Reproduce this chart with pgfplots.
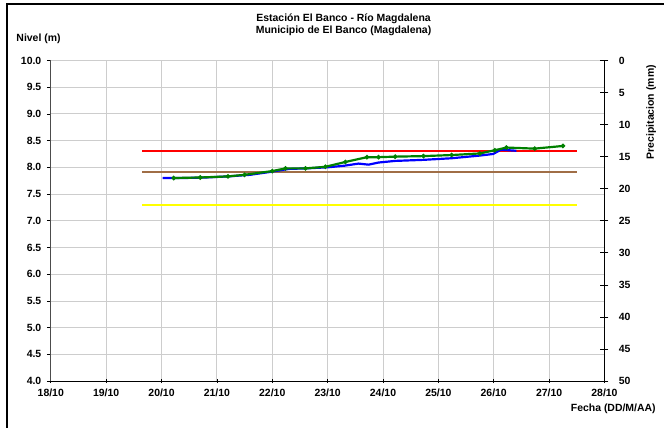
\documentclass[border=0pt]{standalone}
\usepackage{pgfplots}
\pgfplotsset{compat=1.18}
\usepackage{fontspec}
\setmainfont{Liberation Sans}
\definecolor{gridgray}{RGB}{205,205,205}
\definecolor{brownline}{RGB}{160,110,70}
\definecolor{greenline}{RGB}{0,128,0}
\definecolor{myred}{RGB}{255,0,0}
\definecolor{myyellow}{RGB}{255,255,0}
\definecolor{myblue}{RGB}{0,0,255}
\begin{document}
\begin{tikzpicture}[x=1pt,y=1pt]
\begin{axis}[
  name=main,
  at={(0,0)}, anchor=south west,
  width=556pt, height=322pt, scale only axis,
  xmin=0, xmax=10, ymin=4, ymax=10,
  xtick={0,...,10},
  xticklabels={18/10,19/10,20/10,21/10,22/10,23/10,24/10,25/10,26/10,27/10,28/10},
  ytick={4,4.5,...,10},
  yticklabel style={xshift=-2pt,/pgf/number format/.cd,fixed,fixed zerofill,precision=1},
  /pgf/number format/assume math mode=true,
  ticklabel style={font=\fontsize{10.5}{12}\selectfont\bfseries},
  grid=major, major grid style={gridgray, line width=0.8pt},
  axis x line*=bottom, axis y line*=left,
  x axis line style={black, line width=0.8pt, -},
  y axis line style={black!70, line width=1pt, -},
  tick style={black, line width=0.7pt},
  major tick length=4pt,
  xtick align=center,
  ytick align=outside,
  xticklabel style={yshift=-2pt},
  clip=false,
]
\addplot[draw=myred, line width=2pt] coordinates {(1.65,8.3) (5.5,8.3) (9.5,8.3)};
\addplot[draw=brownline, line width=2pt] coordinates {(1.65,7.92) (5.5,7.92) (9.5,7.92)};
\addplot[draw=myyellow, line width=2pt] coordinates {(1.65,7.3) (5.5,7.3) (9.5,7.3)};
\addplot[draw=myblue, line width=2.2pt] coordinates {
(2.02,7.80) (2.4,7.80) (2.8,7.81) (3.2,7.83) (3.6,7.86) (4.0,7.92) (4.3,7.97)
(4.6,7.98) (5.0,8.00) (5.3,8.03) (5.56,8.07) (5.74,8.05) (5.92,8.09) (6.22,8.12)
(6.73,8.14) (7.24,8.17) (7.75,8.22) (7.99,8.25) (8.13,8.33) (8.41,8.31)};
\addplot[draw=greenline, line width=2.2pt, mark=*, mark size=1pt, mark options={fill=greenline}] coordinates {
(2.22,7.80) (2.7,7.81) (3.2,7.83) (3.5,7.86) (4.0,7.93) (4.24,7.98) (4.6,7.98)
(4.96,8.01) (5.32,8.10) (5.71,8.19) (5.92,8.19) (6.22,8.20) (6.73,8.21) (7.24,8.23)
(7.75,8.26) (8.02,8.32) (8.23,8.37) (8.74,8.35) (9.25,8.40)};
\end{axis}
\begin{axis}[
  at={(0,0)}, anchor=south west,
  width=556pt, height=322pt, scale only axis,
  xmin=0, xmax=10, ymin=0, ymax=50, y dir=reverse,
  axis x line=none, axis y line*=right,
  ytick={0,5,...,50},
  ticklabel style={font=\fontsize{10.5}{12}\selectfont\bfseries},
  /pgf/number format/assume math mode=true,
  y axis line style={black, line width=1pt, -},
  tick style={black, line width=0.7pt},
  major tick length=8pt,
  ytick align=center,
  yticklabel style={xshift=7pt},
]
\end{axis}
% frame (left and top)
\draw[black, line width=1.6pt] (-44,-47) -- (-44,378.5) -- (616,378.5);
\useasboundingbox (-51,-45.3) rectangle (614,382.7);
% titles
\node[font=\fontsize{10.5}{12.5}\selectfont\bfseries, align=center] at (294,358) {Estación El Banco - Río Magdalena\\Municipio de El Banco (Magdalena)};
\node[font=\fontsize{10.5}{12}\selectfont\bfseries, anchor=west] at (-38,344) {Nivel (m)};
\node[font=\fontsize{10.5}{12}\selectfont\bfseries, anchor=east] at (611,-28) {Fecha (DD/M/AA)};
\node[font=\fontsize{10.5}{12}\selectfont\bfseries, rotate=90] at (603,270) {Precipitacion (mm)};
\end{tikzpicture}
\end{document}
